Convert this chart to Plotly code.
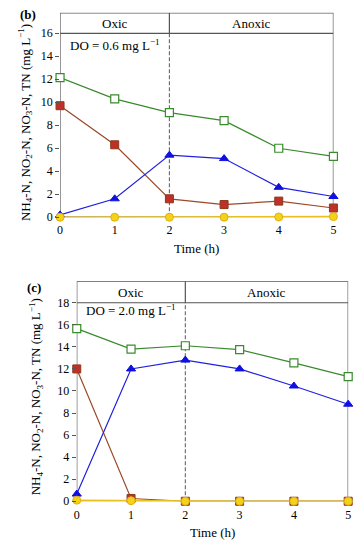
import plotly.graph_objects as go

time_h = [0, 1, 2, 3, 4, 5]

# Panel (b): DO = 0.6 mg/L
b_tn = [12.15, 10.3, 9.1, 8.4, 6.0, 5.3]
b_nh4 = [9.7, 6.3, 1.6, 1.1, 1.4, 0.8]
b_no3 = [0.2, 1.6, 5.4, 5.1, 2.6, 1.8]
b_no2 = [0.0, 0.0, 0.0, 0.0, 0.02, 0.05]

# Panel (c): DO = 2.0 mg/L
c_tn = [15.65, 13.8, 14.1, 13.75, 12.55, 11.3]
c_nh4 = [12.0, 0.25, 0.0, 0.0, 0.0, 0.0]
c_no3 = [0.65, 12.0, 12.8, 12.0, 10.45, 8.8]
c_no2 = [0.1, 0.05, 0.0, 0.0, 0.0, 0.0]

b_yticks = [0, 2, 4, 6, 8, 10, 12, 14, 16]
c_yticks = [0, 2, 4, 6, 8, 10, 12, 14, 16, 18]
x_ticks = [0, 1, 2, 3, 4, 5]

FONT = "Liberation Serif"
FRAME = "#555555"
W, H = 362, 550

fig = go.Figure()

def add_series(xa, ya, tn, nh4, no3, no2):
    fig.add_trace(go.Scatter(x=time_h, y=tn, mode="lines+markers", xaxis=xa, yaxis=ya,
                             line=dict(color="#3a8a2e", width=1.2),
                             marker=dict(symbol="square", size=8, color="white",
                                         line=dict(color="#3a8a2e", width=1.2)),
                             cliponaxis=False, showlegend=False))
    fig.add_trace(go.Scatter(x=time_h, y=nh4, mode="lines+markers", xaxis=xa, yaxis=ya,
                             line=dict(color="#9a4a2a", width=1.2),
                             marker=dict(symbol="square", size=8, color="#c0302a",
                                         line=dict(color="#8b3a1a", width=1)),
                             cliponaxis=False, showlegend=False))
    fig.add_trace(go.Scatter(x=time_h, y=no3, mode="lines+markers", xaxis=xa, yaxis=ya,
                             line=dict(color="#2020e0", width=1.2),
                             marker=dict(symbol="triangle-up", size=8, color="#1010e0",
                                         line=dict(color="#1010e0", width=1)),
                             cliponaxis=False, showlegend=False))
    fig.add_trace(go.Scatter(x=time_h, y=no2, mode="lines+markers", xaxis=xa, yaxis=ya,
                             line=dict(color="#e8c020", width=1.5),
                             marker=dict(symbol="circle", size=8, color="#f5d21a",
                                         line=dict(color="#e0b010", width=1)),
                             cliponaxis=False, showlegend=False))

add_series("x", "y", b_tn, b_nh4, b_no3, b_no2)
add_series("x2", "y2", c_tn, c_nh4, c_no3, c_no2)

b_top = 17.78
c_top = 19.94

shapes = []
for xr, yr, top, hdr in [("x", "y", b_top, 16), ("x2", "y2", c_top, 18)]:
    line = dict(color=FRAME, width=1.2)
    shapes += [
        dict(type="line", xref=xr, yref=yr, x0=0, x1=0, y0=0, y1=top, line=line, layer="below"),
        dict(type="line", xref=xr, yref=yr, x0=5, x1=5, y0=0, y1=top, line=line, layer="below"),
        dict(type="line", xref=xr, yref=yr, x0=0, x1=5, y0=top, y1=top, line=line, layer="below"),
        dict(type="line", xref=xr, yref=yr, x0=0, x1=5, y0=hdr, y1=hdr, line=line, layer="below"),
        dict(type="line", xref=xr, yref=yr, x0=0, x1=5, y0=0, y1=0, line=line, layer="below"),
        dict(type="line", xref=xr, yref=yr, x0=2, x1=2, y0=hdr, y1=top, line=line, layer="below"),
        dict(type="line", xref=xr, yref=yr, x0=2, x1=2, y0=0, y1=hdr,
             line=dict(color="#666666", width=1.1, dash="4px,2px"), layer="below"),
    ]

def txt(text, xref, yref, x, y, size=13, angle=0):
    return dict(text=text, xref=xref, yref=yref, x=x, y=y, showarrow=False,
                xanchor="center", yanchor="middle", textangle=angle,
                font=dict(family=FONT, size=size, color="black"))

ytitle = "NH<sub>4</sub>-N, NO<sub>2</sub>-N, NO<sub>3</sub>-N, TN (mg L<sup>−1</sup>)"
ann = [
    txt("Oxic", "x", "y", 1, (16 + b_top) / 2),
    txt("Anoxic", "x", "y", 3.5, (16 + b_top) / 2),
    txt("DO = 0.6 mg L<sup>−1</sup>", "x", "y", 1.0, 15.0),
    txt("Oxic", "x2", "y2", 1, (18 + c_top) / 2),
    txt("Anoxic", "x2", "y2", 3.5, (18 + c_top) / 2),
    txt("DO = 2.0 mg L<sup>−1</sup>", "x2", "y2", 1.0, 17.3),
    txt("<b>(b)</b>", "paper", "paper", 25 / W, 1 - 15 / H),
    txt("<b>(c)</b>", "paper", "paper", 32 / W, 1 - 291 / H),
    txt(ytitle, "paper", "paper", 23 / W, 1 - 124 / H, angle=-90),
    txt(ytitle, "paper", "paper", 33 / W, 1 - 402 / H, angle=-90),
    txt("Time (h)", "paper", "paper", (58 + 336) / 2 / W, 1 - 252 / H),
    txt("Time (h)", "paper", "paper", (75 + 351) / 2 / W, 1 - 539 / H),
]

axis_font = dict(family=FONT, size=12, color="black")
fig.update_layout(
    width=W, height=H,
    margin=dict(l=0, r=0, t=0, b=0),
    paper_bgcolor="white", plot_bgcolor="white",
    shapes=shapes, annotations=ann,
    xaxis=dict(domain=[58 / W, 336 / W], range=[0, 5], tickvals=x_ticks,
               showgrid=False, zeroline=False, showline=False, ticks="", tickfont=axis_font,
               ticklabelstandoff=4, anchor="y"),
    yaxis=dict(domain=[1 - 220 / H, 1 - 13 / H], range=[0, b_top], tickvals=b_yticks,
               showgrid=False, zeroline=False, showline=False, ticks="outside", ticklen=4,
               tickcolor=FRAME, tickfont=axis_font, anchor="x"),
    xaxis2=dict(domain=[75 / W, 351 / W], range=[0, 5], tickvals=x_ticks,
                showgrid=False, zeroline=False, showline=False, ticks="", tickfont=axis_font,
                ticklabelstandoff=5, anchor="y2"),
    yaxis2=dict(domain=[1 - 507.7 / H, 1 - 285 / H], range=[0, c_top], tickvals=c_yticks,
                showgrid=False, zeroline=False, showline=False, ticks="outside", ticklen=4,
                tickcolor=FRAME, tickfont=axis_font, anchor="x2"),
)

fig.write_html("out.html", config={"displayModeBar": False},
               post_script="document.body.style.margin='0';document.body.style.overflow='hidden';")
